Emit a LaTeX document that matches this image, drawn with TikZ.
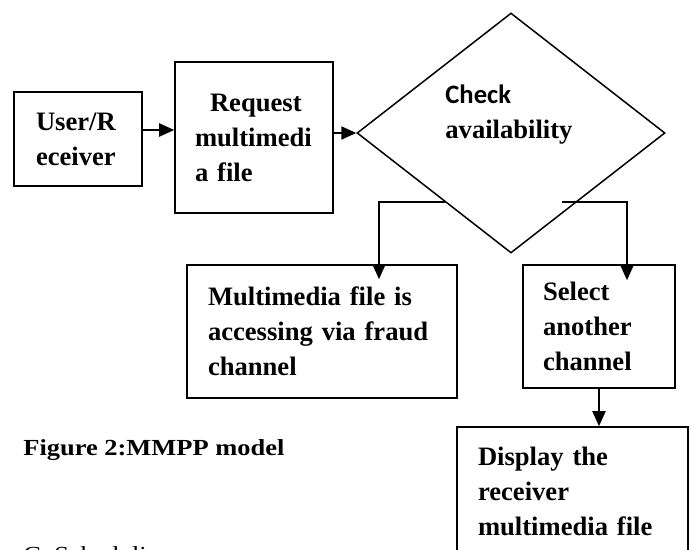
\documentclass[tikz,border=0pt]{standalone}
\usepackage{fontspec}
\setmainfont{Liberation Serif}
\newfontfamily\calibri{Carlito}
\newfontfamily\capfont[FakeStretch=1.15]{Liberation Serif}
\usetikzlibrary{shapes.geometric,arrows.meta,calc}

\begin{document}
\begin{tikzpicture}[x=0.5pt,y=-0.5pt,
	box/.style={draw,line width=0.8pt,inner sep=0pt,align=left,
		font=\bfseries\fontsize{13.3}{17.5}\selectfont},
	arr/.style={line width=1pt,-{Triangle[length=7.5pt,width=6.5pt]}}]
		\useasboundingbox (0,0) rectangle (691,550);
		\node[box,minimum width=64pt,minimum height=47pt,text width=42pt] (user) at (78,139) {User/R\\eceiver};
		\node[box,minimum width=79pt,minimum height=75.5pt,text width=59pt] (req) at (254,137.5) {\hspace*{7.5pt}Request\\multimedi\\a file};
		\node[draw,diamond,line width=0.75pt,minimum width=154pt,minimum height=120pt,inner sep=0pt] (avail) at (511,133) {};
		\node[anchor=west,inner sep=0pt,align=left,font=\bfseries\fontsize{13.3}{17.5}\selectfont] (chk) at (445,115) {{\calibri Check}\\availability};
		\node[box,minimum width=135pt,minimum height=66.5pt,text width=114pt] (fraud) at (322,331.5) {Multimedia file is\\accessing via fraud\\channel};
		\node[box,minimum width=76pt,minimum height=61.5pt,text width=56pt] (sel) at (599,326.5) {Select\\another\\channel};
		\node[box,minimum width=115.5pt,minimum height=64pt,text width=94.5pt] (disp) at (572.5,491) {Display the\\receiver\\multimedia file};
		\node[anchor=west,inner sep=0pt,font=\capfont\bfseries\fontsize{11.5}{13}\selectfont] (cap) at (23,450) {Figure 2:MMPP model};
		\node[anchor=north west,inner sep=0pt,font=\capfont\fontsize{11.5}{13}\selectfont] (sec) at (23,546) {C. Scheduling};
		\coordinate (lb) at ($(avail.west)!0.575!(avail.south)$);
		\coordinate (rs) at ($(avail.east)!0.575!(avail.south)+(-15,0)$);
		\draw[arr] ([yshift=4.5pt]user.east) -- ([yshift=3.75pt]req.west);
		\draw[arr] (req.east |- avail.west) -- (avail.west);
		\draw[arr] (lb) -| ([xshift=28.5pt,yshift=-7.5pt]fraud.north);
		\draw[arr] (rs) -| ([xshift=14pt,yshift=-8pt]sel.north);
		\draw[arr] (sel.south) -- (sel.south |- disp.north);
\end{tikzpicture}
\end{document}
